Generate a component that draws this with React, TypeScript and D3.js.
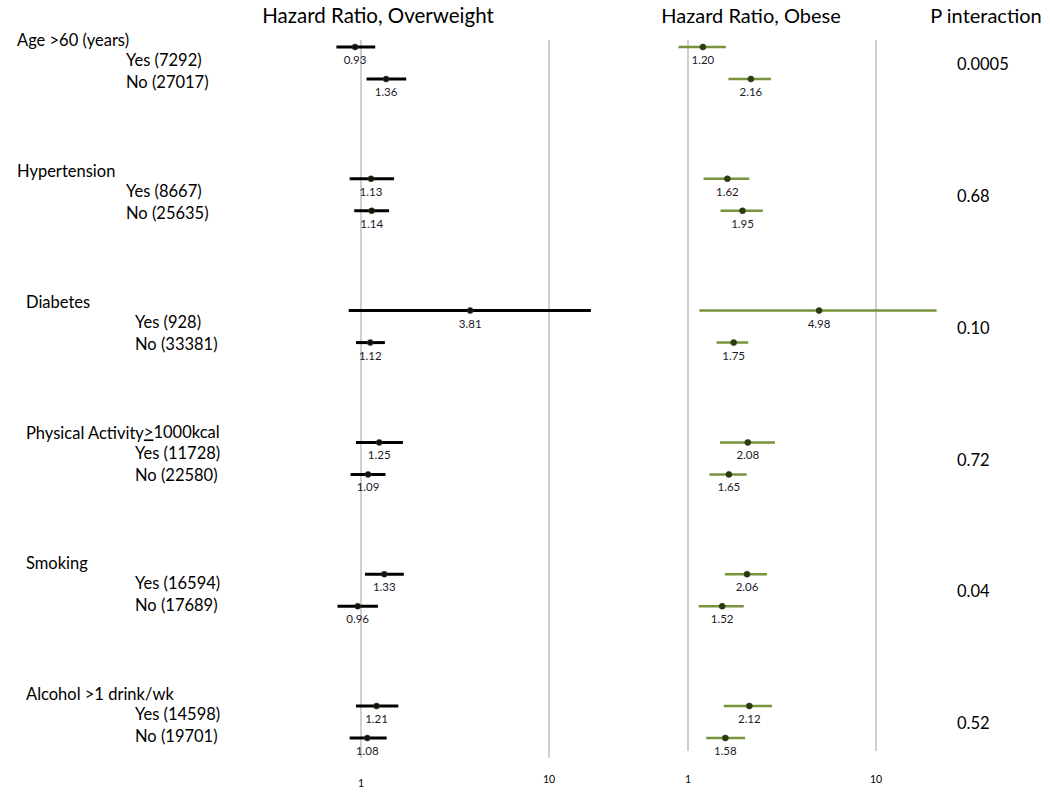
import React from "react";
import * as d3 from "d3";

const groups = ["Age >60 (years)", "Hypertension", "Diabetes", "Physical Activity", "Smoking", "Alcohol >1 drink/wk"];
const yesLabels = ["Yes (7292)", "Yes (8667)", "Yes (928)", "Yes (11728)", "Yes (16594)", "Yes (14598)"];
const noLabels = ["No (27017)", "No (25635)", "No (33381)", "No (22580)", "No (17689)", "No (19701)"];

// Overweight: [yes, no] per group
const overHR = [[0.93, 1.36], [1.13, 1.14], [3.81, 1.12], [1.25, 1.09], [1.33, 0.96], [1.21, 1.08]];
const overLo = [[0.74, 1.07], [0.87, 0.92], [0.86, 0.94], [0.94, 0.88], [1.05, 0.75], [0.94, 0.87]];
const overHi = [[1.19, 1.74], [1.50, 1.41], [16.7, 1.34], [1.67, 1.35], [1.69, 1.23], [1.58, 1.37]];

// Obese
const obeseHR = [[1.20, 2.16], [1.62, 1.95], [4.98, 1.75], [2.08, 1.65], [2.06, 1.52], [2.12, 1.58]];
const obeseLo = [[0.89, 1.64], [1.21, 1.49], [1.15, 1.42], [1.48, 1.30], [1.57, 1.14], [1.55, 1.25]];
const obeseHi = [[1.59, 2.76], [2.12, 2.50], [21.0, 2.09], [2.90, 2.05], [2.63, 1.98], [2.80, 2.01]];

const pInteraction = ["0.0005", "0.68", "0.10", "0.72", "0.04", "0.52"];
const tickValues = [1, 10];
const fmt = d3.format(".2f");

const FONT = "Lato, 'Open Sans', sans-serif";

export default function App() {
  const xLeft = d3.scaleLog().domain([1, 10]).range([361, 549]);
  const xRight = d3.scaleLog().domain([1, 10]).range([688, 876]);
  const yMark = d3.scaleLinear().domain([0, 5]).range([47, 706]);
  const yText = d3.scaleLinear().domain([0, 5]).range([42, 696]);
  const sub = 32;

  const panels = [
    { x: xLeft, hr: overHR, lo: overLo, hi: overHi, color: "#000000", dot: "#111", width: 3, gridBottom: 758 },
    { x: xRight, hr: obeseHR, lo: obeseLo, hi: obeseHi, color: "#77933C", dot: "#2b3a12", width: 2.5, gridBottom: 751 },
  ];

  return (
    <svg width={1050} height={806} style={{ position: "absolute", left: 0, top: 0, background: "#fff" }} fontFamily={FONT}>
      <rect width={1050} height={806} fill="#fff" />
      {/* column headers */}
      <text x={378} y={18} fontSize={20.5} textAnchor="middle" dominantBaseline="middle" fill="#000">Hazard Ratio, Overweight</text>
      <text x={751} y={18} fontSize={20} textAnchor="middle" dominantBaseline="middle" fill="#000">Hazard Ratio, Obese</text>
      <text x={986} y={18} fontSize={20} textAnchor="middle" dominantBaseline="middle" fill="#000">P interaction</text>

      {/* grid lines and ticks */}
      {panels.map((p, pi) => (
        <g key={"grid" + pi}>
          {tickValues.map((t) => (
            <g key={t}>
              <line x1={p.x(t)} x2={p.x(t)} y1={40} y2={p.gridBottom} stroke="#bfbfbf" strokeWidth={1.5} />
              <text x={p.x(t)} y={pi === 0 && t === 1 ? 784 : 780} fontSize={10.5} textAnchor="middle" dominantBaseline="middle" fill="#000">{t}</text>
            </g>
          ))}
        </g>
      ))}

      {/* labels */}
      {groups.map((g, i) => {
        const hx = i < 2 ? 17 : 26;
        const sx = i < 2 ? 126 : 135;
        const ty = yText(i);
        return (
          <g key={"lab" + i} fontSize={16.5} fill="#000">
            <text x={hx} y={ty} dominantBaseline="middle">
              {g}
              {i === 3 ? (
                <>
                  <tspan textDecoration="underline">&gt;</tspan>
                  <tspan>1000kcal</tspan>
                </>
              ) : null}
            </text>
            <text x={sx} y={ty + 20} dominantBaseline="middle">{yesLabels[i]}</text>
            <text x={sx} y={ty + 42} dominantBaseline="middle">{noLabels[i]}</text>
            <text x={957} y={yMark(i) + 19} fontSize={16.5} dominantBaseline="middle">{pInteraction[i]}</text>
          </g>
        );
      })}

      {/* forest marks */}
      {panels.map((p, pi) => (
        <g key={"marks" + pi}>
          {groups.map((g, i) =>
            [0, 1].map((k) => {
              const y = yMark(i) + k * sub;
              const v = p.hr[i][k];
              return (
                <g key={i + "-" + k}>
                  <line x1={p.x(p.lo[i][k])} x2={p.x(p.hi[i][k])} y1={y} y2={y} stroke={p.color} strokeWidth={p.width} />
                  <circle cx={p.x(v)} cy={y} r={3} fill={p.dot} stroke={pi === 0 ? "#3b4a1a" : "#2b3a12"} strokeWidth={0.6} />
                  <text x={p.x(v)} y={y + 14} fontSize={11.5} textAnchor="middle" dominantBaseline="middle" fill="#1a1a2a">{fmt(v)}</text>
                </g>
              );
            })
          )}
        </g>
      ))}
    </svg>
  );
}
